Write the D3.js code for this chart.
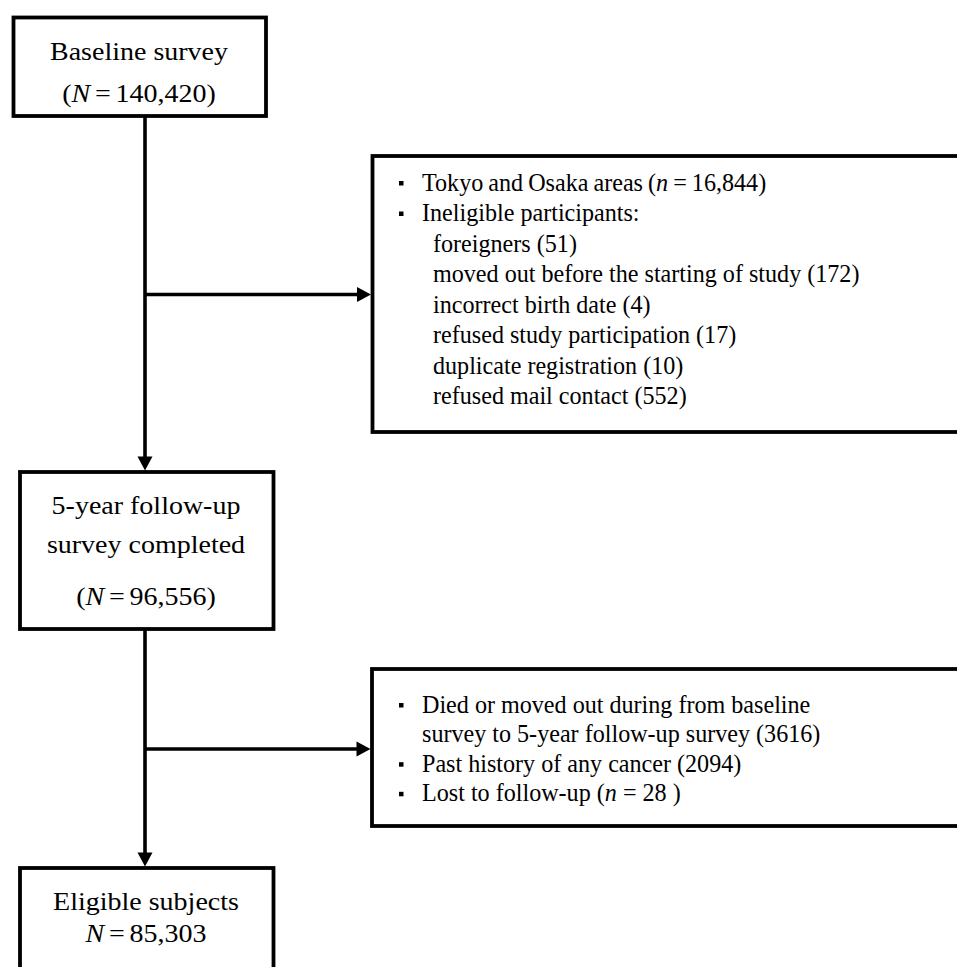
<!DOCTYPE html>
<html>
<head>
<meta charset="utf-8">
<script src="https://cdn.jsdelivr.net/npm/d3@7/dist/d3.min.js"></script>
<style>
  html, body { margin: 0; padding: 0; background: #fff; overflow: hidden; }
  svg { display: block; }
</style>
</head>
<body>
<svg id="chart" width="957" height="967"></svg>
<script>
// ---------- data ----------
const stageTitles = [["Baseline survey"], ["5-year follow-up", "survey completed"], ["Eligible subjects"]];
const stageCounts = [140420, 96556, 85303];
const stageCountParen = [true, true, false];

const areaExclusion = { label: "Tokyo and Osaka areas", n: 16844 };
const ineligibleHeader = "Ineligible participants:";
const ineligibleReasons = ["foreigners", "moved out before the starting of study", "incorrect birth date",
  "refused study participation", "duplicate registration", "refused mail contact"];
const ineligibleCounts = [51, 172, 4, 17, 10, 552];

const followupExclusionLines = [
  ["Died or moved out during from baseline", "survey to 5-year follow-up survey"],
  ["Past history of any cancer"],
  ["Lost to follow-up"]
];
const followupExclusionCounts = [3616, 2094, 28];
const followupExclusionStyle = ["paren", "paren", "n"];

// ---------- drawing ----------
const svg = d3.select("#chart");
const FONT = "'Liberation Serif', 'Times New Roman', serif";
const FS = 25;
const SX_MAIN = 1.12;
const SX_SIDE = 0.965;
const fmt = d3.format(",");

const BW = 3.8;   // box border
const LW = 3.6;   // connector line width

// boxes: [x0, y0, x1, y1] stroke centerlines
const boxes = [
  [13.5, 17.5, 266, 116],
  [20, 472, 273.5, 629],
  [20, 868, 273.5, 1010]
];
const sideBoxes = [
  [372.5, 156, 1000, 432],
  [372, 669, 1000, 826]
];

svg.append("rect").attr("width", 957).attr("height", 967).attr("fill", "#fff");

function drawBox(b) {
  svg.append("rect")
    .attr("x", b[0]).attr("y", b[1])
    .attr("width", b[2] - b[0]).attr("height", b[3] - b[1])
    .attr("fill", "none").attr("stroke", "#000").attr("stroke-width", BW);
}
boxes.forEach(drawBox);
sideBoxes.forEach(drawBox);

// rich text: segments [{t, i}]
function addText(x, y, segs, anchor, sx, ws) {
  const g = svg.append("g").attr("transform", `translate(${x},${y}) scale(${sx},1)`);
  const t = g.append("text")
    .attr("x", 0).attr("y", 0)
    .attr("font-family", FONT).attr("font-size", FS)
    .attr("fill", "#000")
    .attr("word-spacing", ws || 0)
    .attr("text-anchor", anchor || "start");
  segs.forEach(s => {
    t.append("tspan").attr("font-style", s.i ? "italic" : "normal").text(s.t);
  });
  return t;
}
function bullet(x, yBase) {
  svg.append("rect").attr("x", x).attr("y", yBase - 9.5).attr("width", 4.5).attr("height", 4.5).attr("fill", "#000");
}

// main stage texts
const mainCx = [139, 146, 146];
const mainBaselines = [[60, 102], [514, 553, 605], [910, 942]];
stageTitles.forEach((lines, k) => {
  lines.forEach((ln, j) => addText(mainCx[k], mainBaselines[k][j], [{ t: ln }], "middle", SX_MAIN));
  const yb = mainBaselines[k][lines.length];
  const segs = stageCountParen[k]
    ? [{ t: "(" }, { t: "N", i: true }, { t: " = " + fmt(stageCounts[k]) + ")" }]
    : [{ t: "N", i: true }, { t: " = " + fmt(stageCounts[k]) }];
  addText(mainCx[k], yb, segs, "middle", SX_MAIN, -2);
});

// side box 1
const b1x = 399, t1x = 422, s1x = 433, y1 = 190.5, dy1 = 30.5;
bullet(b1x, y1);
addText(t1x, y1, [{ t: areaExclusion.label + " (" }, { t: "n", i: true }, { t: " = " + fmt(areaExclusion.n) + ")" }], "start", SX_SIDE, -1);
bullet(b1x, y1 + dy1);
addText(t1x, y1 + dy1, [{ t: ineligibleHeader }], "start", SX_SIDE);
ineligibleReasons.forEach((r, i) => {
  addText(s1x, y1 + dy1 * (i + 2), [{ t: r + " (" + ineligibleCounts[i] + ")" }], "start", SX_SIDE);
});

// side box 2
const y2 = 712.5, dy2 = 29.6;
let line = 0;
followupExclusionLines.forEach((lines, k) => {
  bullet(b1x, y2 + dy2 * line);
  lines.forEach((ln, j) => {
    const last = j === lines.length - 1;
    let segs = [{ t: ln }];
    if (last) {
      if (followupExclusionStyle[k] === "paren") segs = [{ t: ln + " (" + followupExclusionCounts[k] + ")" }];
      else segs = [{ t: ln + " (" }, { t: "n", i: true }, { t: " = " + followupExclusionCounts[k] + " )" }];
    }
    addText(t1x, y2 + dy2 * line, segs, "start", SX_SIDE);
    line++;
  });
});

// connectors
const cx = 145;
function vLine(x, yA, yB) {
  svg.append("line").attr("x1", x).attr("x2", x).attr("y1", yA).attr("y2", yB)
    .attr("stroke", "#000").attr("stroke-width", LW);
}
function hLine(y, xA, xB) {
  svg.append("line").attr("x1", xA).attr("x2", xB).attr("y1", y).attr("y2", y)
    .attr("stroke", "#000").attr("stroke-width", LW);
}
function arrowDown(x, tipY) {
  svg.append("path").attr("d", `M${x - 7.5},${tipY - 14} L${x + 7.5},${tipY - 14} L${x},${tipY} Z`).attr("fill", "#000");
}
function arrowRight(tipX, y) {
  svg.append("path").attr("d", `M${tipX - 14},${y - 7.5} L${tipX - 14},${y + 7.5} L${tipX},${y} Z`).attr("fill", "#000");
}
vLine(cx, 116, 458);
arrowDown(cx, 470.5);
hLine(294.5, cx, 358);
arrowRight(371, 294.5);

vLine(cx, 629, 854);
arrowDown(cx, 866.5);
hLine(749, cx, 357);
arrowRight(370.5, 749);
</script>
</body>
</html>
